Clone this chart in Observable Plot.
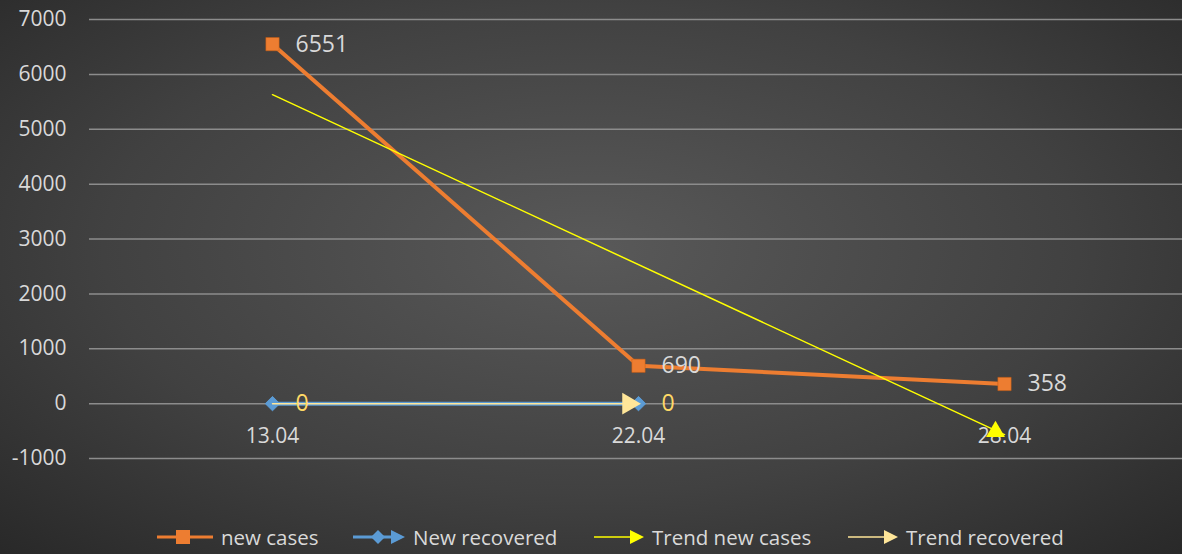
<!DOCTYPE html>
<html><head><meta charset="utf-8">
<script src="https://cdn.jsdelivr.net/npm/d3@7"></script>
<script src="https://cdn.jsdelivr.net/npm/@observablehq/plot@0.6"></script>
<style>
html,body{margin:0;padding:0;background:#262626;}
#wrap{position:relative;width:1182px;height:554px;overflow:hidden;
 background:radial-gradient(ellipse 75% 80% at 50% 45%, #595959 0%, #414141 55%, #262626 100%);
 font-family:"Open Sans",sans-serif;}
#chart svg{display:block;background:transparent;}
#legend{position:absolute;left:0;top:519px;width:1182px;height:36px;}
.li{position:absolute;top:0;height:36px;display:flex;align-items:center;color:#d9d9d9;font-size:20.5px;white-space:nowrap;}
.li svg{margin-right:8px;}
</style></head>
<body>
<div id="wrap"><div id="chart"></div><div id="legend"></div></div>
<script>
const dates = ["13.04", "22.04", "28.04"];
const newCases = [6551, 690, 358];
const newRecovered = [0, 0];            // 13.04, 22.04
const trendNewCases = [5630, -564];     // 13.04, 28.04
const trendRecovered = [0, 0];          // 13.04, 22.04
const yTicks = [-1000, 0, 1000, 2000, 3000, 4000, 5000, 6000, 7000];

const colNew = "#ed7d31", colRec = "#5b9bd5", colTrendNew = "#ffff00", colTrendRec = "#ffe699";
const labelCol = "#d9d9d9";

const casesData = dates.map((d, i) => ({date: d, v: newCases[i]}));
const recData = newRecovered.map((v, i) => ({date: dates[i], v}));
const trendNewData = [{date: dates[0], v: trendNewCases[0]}, {date: dates[2], v: trendNewCases[1]}];
const trendRecData = trendRecovered.map((v, i) => ({date: dates[i], v}));

const plot = Plot.plot({
  width: 1182,
  height: 510,
  marginLeft: 89,
  marginRight: 0,
  marginTop: 19,
  marginBottom: 52,
  style: {background: "transparent", fontFamily: "Open Sans, sans-serif", color: labelCol},
  x: {type: "point", domain: dates, range: [272, 1004], padding: 0, axis: null},
  y: {domain: [-1000, 7000], axis: null},
  marks: [
    Plot.gridY(yTicks, {stroke: "#8c8c8c", strokeOpacity: 1, strokeWidth: 1.5}),
    Plot.axisY(yTicks, {label: null, tickSize: 0, tickPadding: 23, fontSize: 21, fill: labelCol, tickFormat: d => String(d)}),
    Plot.text(dates, {x: d => d, y: 0, dy: 33, text: d => d, fontSize: 21, fill: labelCol}),
    // New recovered
    Plot.line(recData, {x: "date", y: "v", stroke: colRec, strokeWidth: 4}),
    Plot.dot(recData, {x: "date", y: "v", symbol: "diamond2", r: 6.5, fill: colRec, stroke: colRec, strokeWidth: 1}),
    // Trend recovered
    Plot.line(trendRecData, {x: "date", y: "v", stroke: colTrendRec, strokeWidth: 1.5}),
    Plot.dot(trendRecData.slice(1), {x: "date", y: "v", symbol: "triangle", r: 8, fill: colTrendRec, rotate: 90, dx: -10}),
    Plot.text(trendRecData, {x: "date", y: "v", text: d => String(d.v), dx: 23, textAnchor: "start", fontSize: 23, fill: "#ffd966"}),
    // new cases
    Plot.line(casesData, {x: "date", y: "v", stroke: colNew, strokeWidth: 4}),
    Plot.dot(casesData, {x: "date", y: "v", symbol: "square", r: 7.5, fill: colNew, stroke: "#c55a11", strokeWidth: 0.5}),
    Plot.text(casesData, {x: "date", y: "v", text: d => String(d.v), dx: 23, textAnchor: "start", fontSize: 23, fill: labelCol}),
    // Trend new cases
    Plot.line(trendNewData, {x: "date", y: "v", stroke: colTrendNew, strokeWidth: 1.5}),
    Plot.dot(trendNewData.slice(1), {x: "date", y: "v", symbol: "triangle", r: 7, fill: colTrendNew, dy: -3, dx: -9})
  ]
});
document.getElementById("chart").appendChild(plot);

// Legend
const legendItems = [
  {label: "new cases", left: 157, svg: `<svg width="56" height="20"><line x1="0" y1="10" x2="56" y2="10" stroke="${colNew}" stroke-width="3"/><rect x="19" y="3" width="14" height="14" fill="${colNew}"/></svg>`},
  {label: "New recovered", left: 353, svg: `<svg width="52" height="20"><line x1="0" y1="10" x2="40" y2="10" stroke="${colRec}" stroke-width="3"/><path d="M25 3 L32 10 L25 17 L18 10 Z" fill="${colRec}"/><path d="M38 3 L52 10 L38 17 Z" fill="${colRec}"/></svg>`},
  {label: "Trend new cases", left: 594, svg: `<svg width="50" height="20"><line x1="0" y1="10" x2="40" y2="10" stroke="${colTrendNew}" stroke-width="1.5"/><path d="M36 3 L50 10 L36 17 Z" fill="${colTrendNew}"/></svg>`},
  {label: "Trend recovered", left: 848, svg: `<svg width="50" height="20"><line x1="0" y1="10" x2="40" y2="10" stroke="${colTrendRec}" stroke-width="1.5"/><path d="M36 3 L50 10 L36 17 Z" fill="${colTrendRec}"/></svg>`}
];
const leg = document.getElementById("legend");
for (const it of legendItems) {
  const div = document.createElement("div");
  div.className = "li";
  div.style.left = it.left + "px";
  div.innerHTML = it.svg + `<span>${it.label}</span>`;
  leg.appendChild(div);
}
</script>
</body></html>
